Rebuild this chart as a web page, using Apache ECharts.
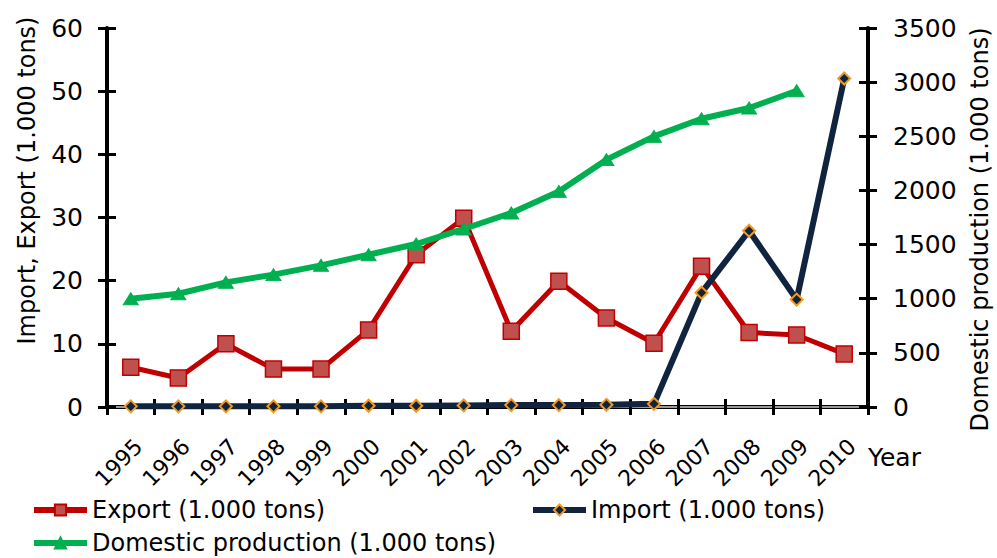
<!DOCTYPE html>
<html>
<head>
<meta charset="utf-8">
<script src="https://cdn.jsdelivr.net/npm/echarts@6/dist/echarts.min.js"></script>
<style>
  html, body { margin: 0; padding: 0; background: #fff; }
  #chart { width: 997px; height: 558px; }
</style>
</head>
<body>
<div id="chart"></div>
<script>
// Year categories
const years = ['1995', '1996', '1997', '1998', '1999', '2000', '2001', '2002',
               '2003', '2004', '2005', '2006', '2007', '2008', '2009', '2010'];

// Export, 1.000 tons (left axis)
const exportVals = [6.3, 4.6, 10.0, 6.0, 6.0, 12.2, 24.1, 29.9,
                    12.0, 19.9, 14.1, 10.1, 22.3, 11.8, 11.4, 8.4];

// Import, 1.000 tons (left axis)
const importVals = [0.1, 0.1, 0.1, 0.1, 0.1, 0.2, 0.2, 0.25,
                    0.3, 0.3, 0.35, 0.5, 18.1, 27.9, 17.0, 52.0];

// Domestic production, 1.000 tons (right axis); no figure for 2010
const productionVals = [1000, 1046, 1151, 1222, 1308, 1406, 1505, 1644,
                        1792, 1991, 2284, 2499, 2662, 2761, 2921, null];

// Axis scales
const leftAxis = { min: 0, max: 60, step: 10 };
const rightAxis = { min: 0, max: 3500, step: 500 };

const seriesNames = ['Export (1.000 tons)', 'Import (1.000 tons)', 'Domestic production (1.000 tons)'];
const leftTitle = 'Import, Export (1.000 tons)';
const rightTitle = 'Domestic production (1.000 tons)';
const xTitle = 'Year';

const FONT = 'DejaVu Sans';
const chart = echarts.init(document.getElementById('chart'), null, { renderer: 'svg' });

const tickStyle = { color: '#000', width: 3 };
const legendBase = {
  padding: 0,
  itemWidth: 53,
  itemHeight: 14,
  itemGap: 5,
  lineStyle: { width: 6 },
  textStyle: { fontFamily: FONT, fontSize: 24, color: '#000' }
};
const plainNumber = v => String(v);

chart.setOption({
  animation: false,
  backgroundColor: '#fff',
  textStyle: { fontFamily: FONT, color: '#000' },
  grid: { left: 107, right: 129, top: 28, bottom: 151, outerBoundsMode: 'none', containLabel: false },
  legend: [
    Object.assign({ data: [seriesNames[0]], left: 31, top: 498 }, legendBase),
    Object.assign({ data: [seriesNames[1]], left: 530, top: 498 }, legendBase),
    Object.assign({ data: [seriesNames[2]], left: 31, top: 531 }, legendBase)
  ],
  xAxis: [
    {
      type: 'category',
      data: years,
      position: 'bottom',
      boundaryGap: true,
      axisLine: { show: true, lineStyle: { color: '#000', width: 4 } },
      axisTick: { show: true, interval: 0, length: 8, lineStyle: tickStyle },
      axisLabel: { interval: 0, rotate: 45, fontSize: 22, margin: 28, verticalAlign: 'top', color: '#000', fontFamily: FONT },
      splitLine: { show: false },
      name: xTitle,
      nameLocation: 'end',
      nameGap: 0,
      nameMoveOverlap: false,
      nameTextStyle: { fontSize: 25, color: '#000', fontFamily: FONT, align: 'left', verticalAlign: 'top', lineHeight: 100 }
    },
    {
      // inner half of the crossing ticks
      type: 'category',
      data: years,
      position: 'bottom',
      boundaryGap: true,
      axisLine: { show: false },
      axisTick: { show: true, inside: true, interval: 0, length: 8, lineStyle: tickStyle },
      axisLabel: { show: false },
      splitLine: { show: false }
    },
    {
      // grey frame line along the top of the plot
      type: 'category',
      data: years,
      position: 'top',
      boundaryGap: true,
      axisLine: { show: true, lineStyle: { color: '#9a9a9a', width: 2 } },
      axisTick: { show: false },
      axisLabel: { show: false },
      splitLine: { show: false }
    }
  ],
  yAxis: [
    {
      type: 'value',
      position: 'left',
      min: leftAxis.min, max: leftAxis.max, interval: leftAxis.step,
      axisLine: { show: true, lineStyle: { color: '#000', width: 4 } },
      axisTick: { show: true, length: 9, lineStyle: tickStyle },
      axisLabel: { fontSize: 25, margin: 24, color: '#000', fontFamily: FONT, formatter: plainNumber },
      splitLine: { show: false },
      name: leftTitle,
      nameLocation: 'middle',
      nameRotate: 90,
      nameGap: 68,
      nameTextStyle: { fontSize: 24, color: '#000', fontFamily: FONT, padding: [0, 0, 0, 74] }
    },
    {
      type: 'value',
      position: 'right',
      min: rightAxis.min, max: rightAxis.max, interval: rightAxis.step,
      axisLine: { show: true, lineStyle: { color: '#000', width: 4 } },
      axisTick: { show: true, length: 9, lineStyle: tickStyle },
      axisLabel: { fontSize: 25, margin: 25, color: '#000', fontFamily: FONT, formatter: plainNumber },
      splitLine: { show: false },
      name: rightTitle,
      nameLocation: 'middle',
      nameRotate: 90,
      nameGap: 96,
      nameTextStyle: { fontSize: 24, color: '#000', fontFamily: FONT, padding: [0, 24, 0, 0] }
    },
    {
      type: 'value', position: 'left',
      min: leftAxis.min, max: leftAxis.max, interval: leftAxis.step,
      axisLine: { show: false },
      axisTick: { show: true, inside: true, length: 9, lineStyle: tickStyle },
      axisLabel: { show: false },
      splitLine: { show: false }
    },
    {
      type: 'value', position: 'right',
      min: rightAxis.min, max: rightAxis.max, interval: rightAxis.step,
      axisLine: { show: false },
      axisTick: { show: true, inside: true, length: 9, lineStyle: tickStyle },
      axisLabel: { show: false },
      splitLine: { show: false }
    }
  ],
  series: [
    {
      name: seriesNames[0],
      type: 'line',
      xAxisIndex: 0, yAxisIndex: 0,
      data: exportVals,
      symbol: 'rect',
      symbolSize: 16,
      showAllSymbol: true,
      lineStyle: { color: '#C00000', width: 5 },
      itemStyle: { color: '#C0504D', borderColor: '#C00000', borderWidth: 1.5 },
      z: 3
    },
    {
      name: seriesNames[1],
      type: 'line',
      xAxisIndex: 0, yAxisIndex: 0,
      data: importVals,
      symbol: 'diamond',
      symbolSize: 12,
      showAllSymbol: true,
      lineStyle: { color: '#10243F', width: 6 },
      itemStyle: { color: '#10243F', borderColor: '#F59A1B', borderWidth: 2 },
      z: 4
    },
    {
      name: seriesNames[2],
      type: 'line',
      xAxisIndex: 0, yAxisIndex: 1,
      data: productionVals,
      symbol: 'triangle',
      symbolSize: [15, 12],
      showAllSymbol: true,
      connectNulls: false,
      lineStyle: { color: '#00B050', width: 6 },
      itemStyle: { color: '#00B050', borderColor: '#00B050', borderWidth: 1 },
      z: 5
    }
  ]
});
</script>
</body>
</html>
